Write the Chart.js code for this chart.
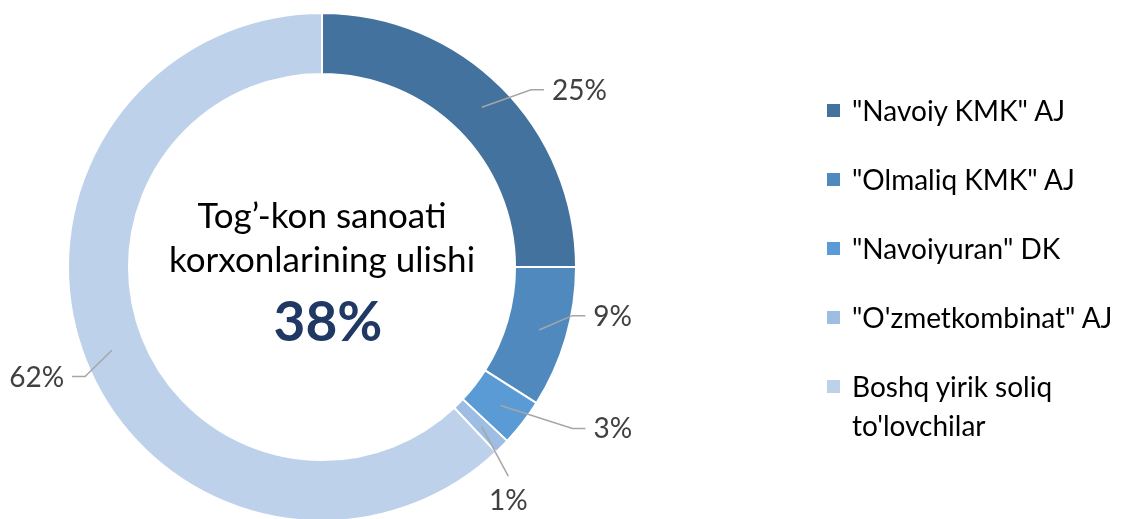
<!DOCTYPE html>
<html>
<head>
<meta charset="utf-8">
<title>Tog'-kon sanoati ulishi</title>
<script src="https://cdn.jsdelivr.net/npm/chart.js@4.4.0/dist/chart.umd.min.js"></script>
<style>
  html, body { margin: 0; padding: 0; background: #fff; overflow: hidden; }
  #wrap { position: relative; width: 1134px; height: 519px; overflow: hidden; }
  #legend { position: absolute; left: 827px; top: 0; font-family: Lato, "Open Sans", sans-serif; font-size: 28px; color: #000; }
  .item { position: absolute; left: 0; width: 300px; line-height: 39px; }
  .item .box { position: absolute; left: 0; top: 13px; width: 13px; height: 13px; }
  .item .txt { position: absolute; left: 25px; top: 0; white-space: nowrap; }
</style>
</head>
<body>
<div id="wrap">
  <canvas id="myChart" width="1134" height="530"></canvas>
  <div id="legend"></div>
</div>
<script>
const categories = ['"Navoiy KMK" AJ', '"Olmaliq KMK" AJ', '"Navoiyuran" DK', '"O\'zmetkombinat" AJ', "Boshq yirik soliq to'lovchilar"];
const shares = [25, 9, 3, 1, 62];
const sliceColors = ["#44729E", "#4F89BE", "#5B9BD5", "#9DBDE3", "#BED1EA"];
const centerLines = ["Tog\u2019-kon sanoati", "korxonlarining ulishi"];
const centerValue = "38%";

// label leader tweaks (degrees clockwise, px beyond outer edge)
const labelShift = [4.7, -5.2, -5, 3.3, -3.2];
const labelReach = [20, 1, 44, 26, 7];

const labelFont = "28px Lato, 'Open Sans', sans-serif";

const sliceLabels = {
  id: "sliceLabels",
  afterDatasetsDraw(chart) {
    const ctx = chart.ctx;
    const meta = chart.getDatasetMeta(0);
    ctx.save();
    ctx.font = labelFont;
    ctx.fillStyle = "#404040";
    ctx.strokeStyle = "#A6A6A6";
    ctx.lineWidth = 1.5;
    meta.data.forEach((arc, i) => {
      const p = arc.getProps(["x", "y", "startAngle", "endAngle", "innerRadius", "outerRadius"], true);
      const mid = (p.startAngle + p.endAngle) / 2;
      const r0 = (p.innerRadius + p.outerRadius) / 2 + 2.5;
      const a1 = mid + labelShift[i] * Math.PI / 180;
      const r1 = p.outerRadius + labelReach[i];
      const sx = p.x + r0 * Math.cos(mid), sy = p.y + r0 * Math.sin(mid);
      const ex = p.x + r1 * Math.cos(a1), ey = p.y + r1 * Math.sin(a1);
      const text = shares[i] + "%";
      ctx.beginPath();
      ctx.moveTo(sx, sy);
      ctx.lineTo(ex, ey);
      if (shares[i] < 2) {
        ctx.stroke();
        ctx.textAlign = "center";
        ctx.textBaseline = "top";
        ctx.fillText(text, ex, ey + 11);
        return;
      }
      const right = Math.cos(a1) >= 0;
      const lx = ex + (right ? 13 : -13);
      ctx.lineTo(lx, ey);
      ctx.stroke();
      ctx.textAlign = right ? "left" : "right";
      ctx.textBaseline = "middle";
      ctx.fillText(text, lx + (right ? 8 : -8), ey + 1);
    });
    ctx.restore();
  }
};

const centerText = {
  id: "centerText",
  afterDraw(chart) {
    const ctx = chart.ctx;
    const arc = chart.getDatasetMeta(0).data[0];
    const cx = arc.x, cy = arc.y;
    ctx.save();
    ctx.textAlign = "center";
    ctx.textBaseline = "middle";
    ctx.fillStyle = "#000";
    ctx.font = "35px Lato, 'Open Sans', sans-serif";
    ctx.fillText(centerLines[0], cx, cy - 50);
    ctx.fillText(centerLines[1], cx, cy - 6);
    ctx.fillStyle = "#203864";
    ctx.font = "bold 55px Lato, 'Open Sans', sans-serif";
    ctx.fillText(centerValue, cx + 6, cy + 56);
    ctx.restore();
  }
};

const legendBox = document.getElementById("legend");
const legendTops = [91, 160, 229, 298, 367];
categories.forEach((name, i) => {
  const item = document.createElement("div");
  item.className = "item";
  item.style.top = legendTops[i] + "px";
  const box = document.createElement("span");
  box.className = "box";
  box.style.background = sliceColors[i];
  const txt = document.createElement("span");
  txt.className = "txt";
  txt.innerHTML = i === 4 ? "Boshq yirik soliq<br>to'lovchilar" : name.replace(/</g, "&lt;");
  item.appendChild(box);
  item.appendChild(txt);
  legendBox.appendChild(item);
});

const chart = new Chart(document.getElementById("myChart").getContext("2d"), {
  type: "doughnut",
  data: {
    labels: categories,
    datasets: [{
      data: shares,
      backgroundColor: sliceColors,
      borderColor: "#ffffff",
      borderWidth: 2
    }]
  },
  options: {
    responsive: false,
    animation: false,
    cutout: "76%",
    layout: { padding: { top: 12, left: 67, right: 557, bottom: 8 } },
    plugins: {
      legend: { display: false },
      tooltip: { enabled: false }
    }
  },
  plugins: [sliceLabels, centerText]
});
</script>
</body>
</html>
